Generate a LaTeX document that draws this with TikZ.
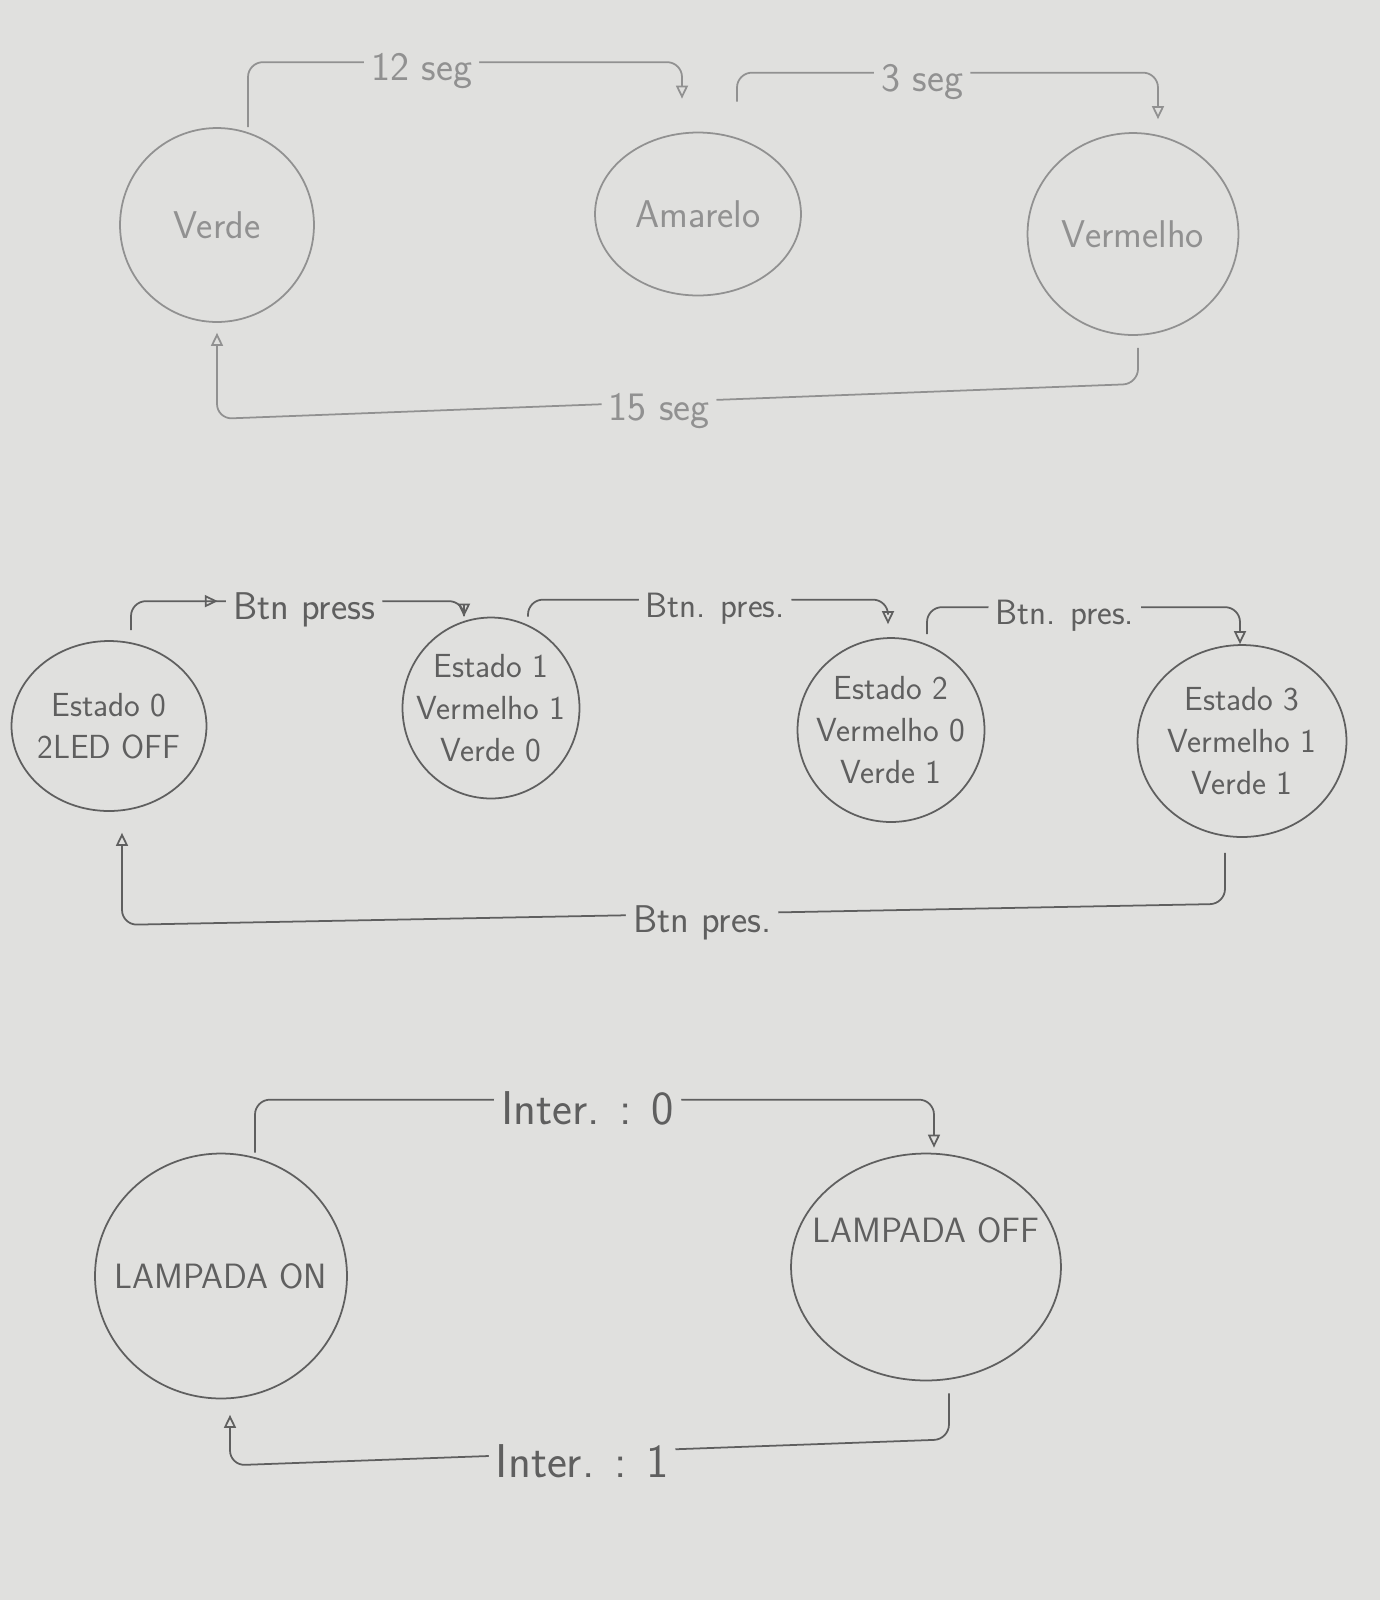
\documentclass[tikz,border=0pt]{standalone}
\usetikzlibrary{shapes.geometric,arrows.meta,decorations.markings}
\definecolor{paper}{RGB}{224,224,222}
\definecolor{pencil}{RGB}{95,95,95}
\definecolor{softpencil}{RGB}{145,145,145}
\begin{document}
\begin{tikzpicture}[x=0.02cm,y=-0.02cm,
    state/.style={ellipse,draw,line width=1pt,inner sep=-0.4cm,align=center,
      font=\sffamily\fontsize{19}{24}\selectfont},
    flow/.style={-{Triangle[open,length=0.26cm,width=0.24cm]},line width=1pt,rounded corners=0.3cm},
    lbl/.style={fill=paper,inner sep=4pt,yshift=-0.18cm,font=\sffamily\fontsize{20}{24}\selectfont}]
  \fill[paper] (0,0) rectangle (1380,1600);
  \begin{scope}[softpencil]
    \node[state,font=\sffamily\fontsize{22}{26}\selectfont,minimum width=3.88cm,minimum height=3.88cm] (verde) at (217,225) {Verde};
    \node[state,font=\sffamily\fontsize{22}{26}\selectfont,minimum width=4.12cm,minimum height=3.26cm] (amarelo) at (698,214) {Amarelo};
    \node[state,font=\sffamily\fontsize{22}{26}\selectfont,minimum width=4.22cm,minimum height=4.04cm] (vermelho) at (1133,234) {Vermelho};
    \draw[flow,shorten >=0.66cm] ([xshift=0.62cm]verde.north) -- ++(0,-65)
      -| node[lbl,font=\sffamily\fontsize{23}{26}\selectfont,pos=0.2] {12 seg} ([xshift=-0.32cm]amarelo.north);
    \draw[flow,shorten <=0.6cm,shorten >=0.26cm] ([xshift=0.78cm]amarelo.north) -- ++(0,-59)
      -| node[lbl,font=\sffamily\fontsize{23}{26}\selectfont,pos=0.22] {3 seg} ([xshift=0.5cm]vermelho.north);
    \draw[flow,shorten <=0.24cm,shorten >=0.2cm] ([xshift=0.1cm]vermelho.south) -- ++(0,48)
      -- node[lbl,font=\sffamily\fontsize{23}{26}\selectfont,pos=0.52] {15 seg} ++(-921,35) -- (verde.south);
  \end{scope}
  \begin{scope}[pencil]
    \node[state,minimum width=3.9cm,minimum height=3.4cm] (e0) at (109,726) {Estado 0\\2LED OFF};
    \node[state,minimum width=3.54cm,minimum height=3.62cm] (e1) at (491,708) {Estado 1\\Vermelho 1\\Verde 0};
    \node[state,minimum width=3.74cm,minimum height=3.68cm] (e2) at (891,730) {Estado 2\\Vermelho 0\\Verde 1};
    \node[state,minimum width=4.18cm,minimum height=3.84cm] (e3) at (1242,741) {Estado 3\\Vermelho 1\\Verde 1};
    \draw[flow,decoration={markings,mark=at position 0.3 with {\arrow{Triangle[open,length=0.26cm,width=0.24cm]}}},
      postaction={decorate}] ([xshift=0.44cm,yshift=0.2cm]e0.north) -- ++(0,-29)
      -| node[lbl,font=\sffamily\fontsize{22}{26}\selectfont,pos=0.26] {Btn press} ([xshift=-0.54cm]e1.north);
    \draw[flow,shorten >=0.26cm] ([xshift=0.74cm]e1.north) -- ++(0,-17)
      -| node[lbl,pos=0.26] {Btn. pres.} ([xshift=-0.06cm]e2.north);
    \draw[flow] ([xshift=0.72cm,yshift=0.06cm]e2.north) -- ++(0,-27)
      -| node[lbl,pos=0.22] {Btn. pres.} ([xshift=-0.04cm]e3.north);
    \draw[flow,shorten <=0.3cm,shorten >=0.42cm] ([xshift=-0.34cm]e3.south) -- ++(0,66)
      -- node[lbl,font=\sffamily\fontsize{22}{26}\selectfont,pos=0.474] {Btn pres.} ++(-1103,21) -- ([xshift=0.26cm]e0.south);
    \node[state,font=\sffamily\fontsize{20}{24}\selectfont,minimum width=5.04cm,minimum height=4.9cm] (on) at (221,1276) {LAMPADA ON};
    \node[state,minimum width=5.4cm,minimum height=4.54cm,
      label={[yshift=0.74cm,font=\sffamily\fontsize{20}{24}\selectfont,text=pencil]center:LAMPADA OFF}] (off) at (926,1267) {};
    \draw[flow,shorten >=0.1cm] ([xshift=0.68cm]on.north) -- ++(0,-53)
      -| node[lbl,pos=0.245,font=\sffamily\fontsize{27}{30}\selectfont] {Inter. : 0} ([xshift=0.16cm]off.north);
    \draw[flow,shorten <=0.24cm,shorten >=0.31cm] ([xshift=0.46cm]off.south) -- ++(0,58)
      -- node[lbl,pos=0.51,font=\sffamily\fontsize{27}{30}\selectfont] {Inter. : 1} ++(-719,26) -- ([xshift=0.18cm]on.south);
  \end{scope}
\end{tikzpicture}
\end{document}
